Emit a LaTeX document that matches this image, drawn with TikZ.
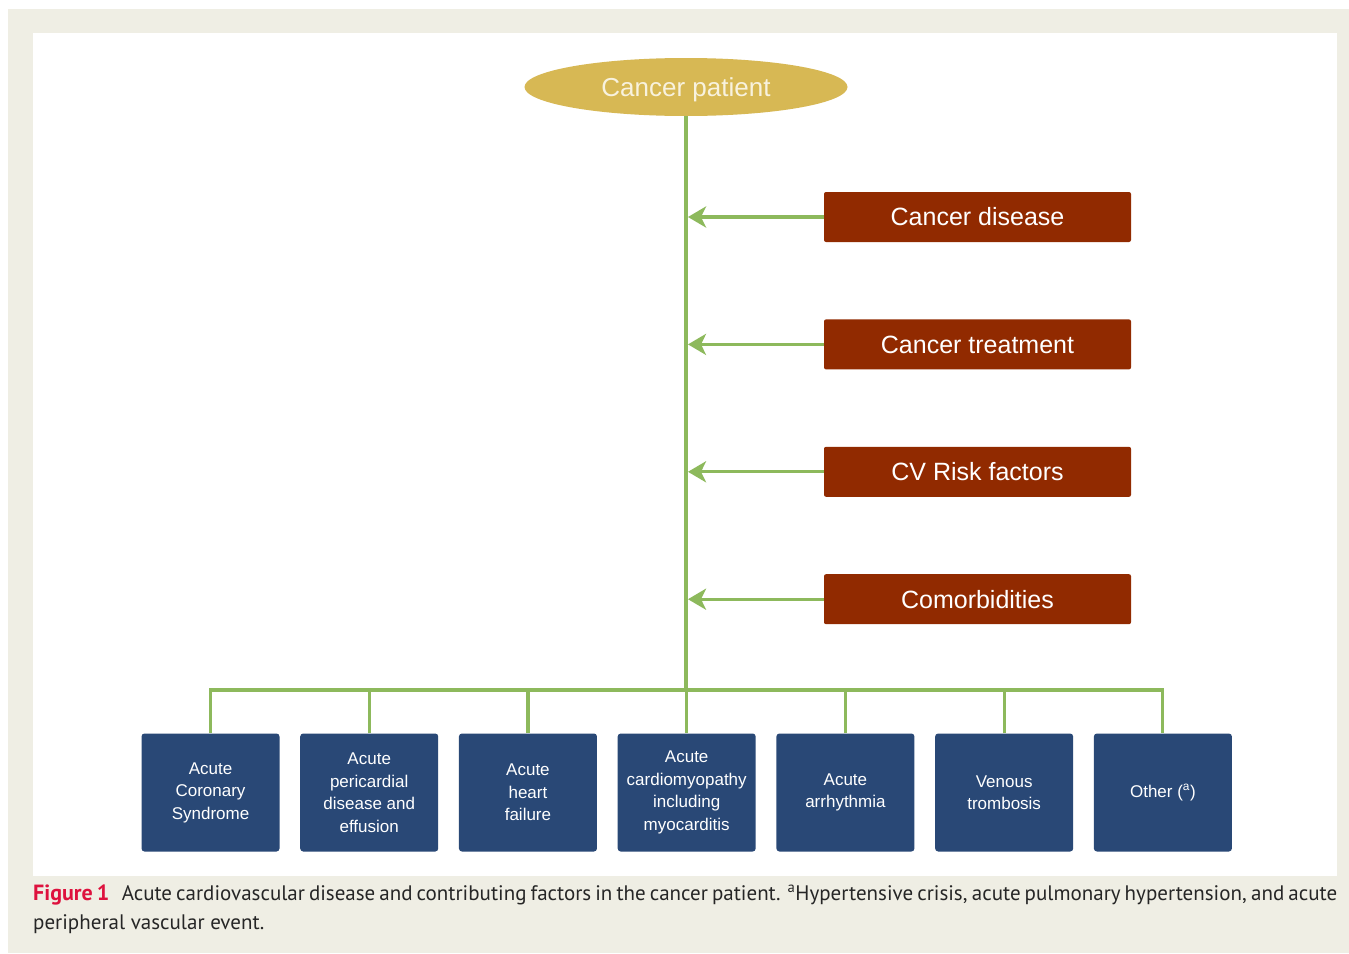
\documentclass[tikz,border=0pt]{standalone}
\usepackage{fontspec}
\setmainfont{Liberation Sans}
\newfontfamily\capfont{PT Sans}
\usetikzlibrary{arrows.meta,shapes.geometric,positioning,calc}
\definecolor{beige}{RGB}{239,238,228}
\definecolor{gold}{RGB}{215,184,84}
\definecolor{cream}{RGB}{248,242,222}
\definecolor{rust}{RGB}{145,42,0}
\definecolor{navy}{RGB}{41,72,118}
\definecolor{leaf}{RGB}{141,185,92}
\definecolor{crimson}{RGB}{222,18,62}

\begin{document}
\begin{tikzpicture}[x=1pt,y=-1pt,
  cause/.style={fill=rust, rounded corners=2pt, minimum width=307pt, minimum height=50pt, inner sep=0pt, text=white, font=\fontsize{25}{30}\selectfont},
  event/.style={fill=navy, rounded corners=3pt, minimum width=138pt, minimum height=118pt, inner sep=0pt, text=white, align=center, font=\fontsize{17}{22.5}\selectfont},
  link/.style={leaf, line width=3.2pt},
  feed/.style={leaf, line width=3.2pt, -{Stealth[length=18pt,width=21pt,inset=5pt]}}]
% Background and panel
\fill[white] (0,0) rectangle (1349,953);
\fill[beige] (8,9) rectangle (1349,953);
\fill[white] (33,33) rectangle (1337,876);

% Patient
\node[ellipse, fill=gold, minimum width=323pt, minimum height=58pt, text depth=0pt, text=cream, font=\fontsize{26}{30}\selectfont] (patient) at (686,87) {Cancer patient};

% Contributing factors
\node[cause] (disease) at (977.5,217) {Cancer disease};
\node[cause, below=77pt of disease] (treatment) {Cancer treatment};
\node[cause, below=77pt of treatment] (risk) {CV Risk factors};
\node[cause, below=77pt of risk] (comorb) {Comorbidities};

% Acute events
\node[event] (acs) at (210.5,792.5) {Acute\\Coronary\\Syndrome};
\node[event, right=20.33pt of acs] (peri) {Acute\\pericardial\\disease and\\effusion};
\node[event, right=20.33pt of peri] (ahf) {Acute\\heart\\failure};
\node[event, right=20.33pt of ahf] (cmp) {Acute\\cardiomyopathy\\including\\myocarditis};
\node[event, right=20.33pt of cmp] (arr) {Acute\\arrhythmia};
\node[event, right=20.33pt of arr] (vte) {Venous\\trombosis};
\node[event, right=20.33pt of vte] (other) {Other (\textsuperscript{a})};

% Trunk and bus
\coordinate (bus) at (patient.south |- 0,690);
\draw[link] (patient.south) -- (bus);
\draw[link] (acs.north) |- (bus) -| (other.north);
\foreach \b in {peri,ahf,cmp,arr,vte}
  \draw[link] (\b.north) -- (\b.north |- bus);

% Arrows into the trunk
\foreach \c in {disease,treatment,risk,comorb}
  \draw[feed, shorten >=2pt] (\c.west) -- (\c.west -| patient.south);

% Caption
\node[anchor=base west, inner sep=0pt, text width=1304pt, align=justify, text=black!85, font=\capfont\fontsize{21}{29}\selectfont] (caption) at (33,900)
  {{\color{crimson}\bfseries\fontsize{22}{29}\selectfont Figure 1}\hspace{0.4em} Acute cardiovascular disease and contributing factors in the cancer patient. \textsuperscript{a}Hypertensive crisis, acute pulmonary hypertension, and acute\linebreak peripheral vascular event.};
\end{tikzpicture}
\end{document}
